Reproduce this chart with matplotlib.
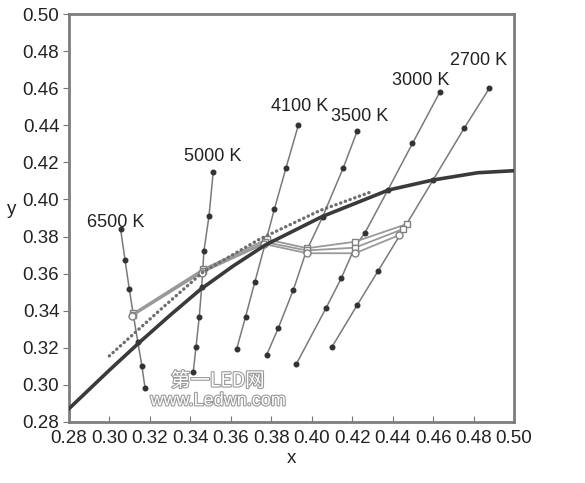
import matplotlib
matplotlib.use("Agg")
import matplotlib.pyplot as plt
import matplotlib.patheffects as pe

# Planckian locus (thick dark curve)
locus_x = [0.28, 0.30, 0.315, 0.33, 0.345, 0.361, 0.377, 0.405, 0.438, 0.46, 0.482, 0.50]
locus_y = [0.2872, 0.3080, 0.3231, 0.3376, 0.3515, 0.3640, 0.3754, 0.3907, 0.4051, 0.4105, 0.4144, 0.4155]

# dotted curve
dotted_x = [0.2999, 0.325, 0.3464, 0.3744, 0.404, 0.4296]
dotted_y = [0.3156, 0.3404, 0.3610, 0.3787, 0.3940, 0.4042]

# isotemperature lines
cct_labels = ["6500 K", "5000 K", "4100 K", "3500 K", "3000 K", "2700 K"]
iso_x = [
    [0.3055, 0.3077, 0.3098, 0.3118, 0.3140, 0.3160, 0.3176],
    [0.3513, 0.3492, 0.3467, 0.3456, 0.3444, 0.3428, 0.3414],
    [0.3934, 0.3873, 0.3815, 0.3777, 0.3719, 0.3673, 0.3629],
    [0.4225, 0.4156, 0.4054, 0.3972, 0.3909, 0.3834, 0.3777],
    [0.4634, 0.4498, 0.4376, 0.4263, 0.4214, 0.4146, 0.4070, 0.3924],
    [0.4878, 0.4753, 0.4600, 0.4469, 0.4329, 0.4225, 0.4099],
]
iso_y = [
    [0.3839, 0.3673, 0.3517, 0.3377, 0.3233, 0.3103, 0.2983],
    [0.4149, 0.3910, 0.3723, 0.3530, 0.3368, 0.3206, 0.3068],
    [0.4401, 0.4171, 0.3947, 0.3790, 0.3556, 0.3368, 0.3194],
    [0.4369, 0.4171, 0.3907, 0.3718, 0.3512, 0.3305, 0.3161],
    [0.4580, 0.4302, 0.4050, 0.3820, 0.3745, 0.3575, 0.3413, 0.3113],
    [0.4599, 0.4383, 0.4105, 0.3867, 0.3616, 0.3431, 0.3203],
]
label_x = [0.3031, 0.3508, 0.3942, 0.4238, 0.4538, 0.4827]
label_y = [0.3876, 0.4230, 0.4503, 0.4446, 0.4644, 0.4751]

# measured series (gray, open markers)
meas_a_x = [0.3118, 0.3464, 0.3777, 0.3977, 0.4214, 0.4469]
meas_a_y = [0.3386, 0.3625, 0.3785, 0.3737, 0.3772, 0.3867]
meas_b_x = [0.3114, 0.3460, 0.3770, 0.3975, 0.4214, 0.4450]
meas_b_y = [0.3378, 0.3615, 0.3770, 0.3725, 0.3740, 0.3840]
meas_c_x = [0.3110, 0.3455, 0.3765, 0.3977, 0.4214, 0.4433]
meas_c_y = [0.3370, 0.3605, 0.3760, 0.3710, 0.3710, 0.3808]

x_ticks = [0.28, 0.30, 0.32, 0.34, 0.36, 0.38, 0.40, 0.42, 0.44, 0.46, 0.48, 0.50]
y_ticks = [0.28, 0.30, 0.32, 0.34, 0.36, 0.38, 0.40, 0.42, 0.44, 0.46, 0.48, 0.50]

plt.rcParams['font.family'] = ['Liberation Sans', 'DejaVu Sans']

fig = plt.figure(figsize=(5.85, 4.83), dpi=100)
ax = fig.add_axes([0.118, 0.1263, 0.7606, 0.8447])

for xs, ys in zip(iso_x, iso_y):
    ax.plot(xs, ys, color='#7a7a7a', lw=1.1, marker='o', ms=3.3,
            mfc='#333333', mec='#333333', zorder=2)

for xs, ys, m in [(meas_a_x, meas_a_y, 's'), (meas_b_x, meas_b_y, 's'),
                  (meas_c_x, meas_c_y, 'o')]:
    ax.plot(xs, ys, color='#999999', lw=1.3, marker=m, ms=5,
            mfc='white', mec='#808080', mew=1.0, zorder=3)

ax.plot(dotted_x, dotted_y, color='#6e6e6e', lw=2.4,
        linestyle=(0, (0.1, 1.4)), dash_capstyle='round', zorder=4)
ax.plot(locus_x, locus_y, color='#3a3a3a', lw=2.6, zorder=5)

for t, lx, ly in zip(cct_labels, label_x, label_y):
    ax.text(lx, ly, t, fontsize=13, ha='center', va='center', color='#222222')

# watermark
wm = dict(ha='center', va='center', color='white', zorder=6,
          path_effects=[pe.withStroke(linewidth=1.6, foreground='#9a9a9a')])
ax.text(0.3536, 0.3021, "第一LED网", fontsize=14,
        family=['Noto Sans CJK SC', 'DejaVu Sans'], **wm)
ax.text(0.3536, 0.2914, "www.Ledwn.com", fontsize=13, **wm)

ax.set_xlim(0.28, 0.50)
ax.set_ylim(0.28, 0.50)
ax.set_xticks(x_ticks)
ax.set_yticks(y_ticks)
ax.set_xticklabels([f"{v:.2f}" for v in x_ticks])
ax.set_yticklabels([f"{v:.2f}" for v in y_ticks])
ax.tick_params(axis='x', direction='in', length=4, color='#777777',
               labelsize=13.5, pad=6, labelcolor='#222222')
ax.tick_params(axis='y', direction='out', length=4, color='#777777',
               labelsize=13.5, pad=3, labelcolor='#222222')
for s in ax.spines.values():
    s.set_color('#7d7d7d')
    s.set_linewidth(2)

ax.set_xlabel("x", fontsize=13.5, labelpad=2, color='#222222')
ax.set_ylabel("y", fontsize=13.5, rotation=0, labelpad=8, color='#222222')

fig.savefig("out.png", dpi=100)
